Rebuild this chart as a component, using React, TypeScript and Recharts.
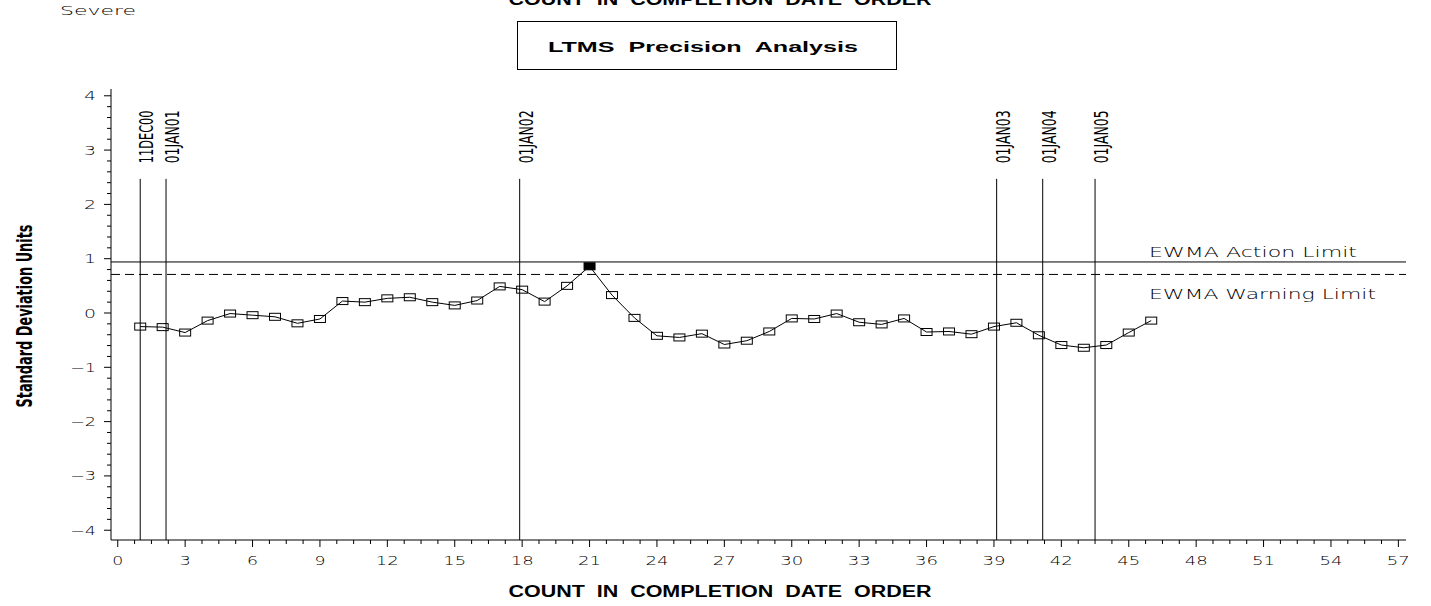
import React from 'react'
import { LineChart, Line, XAxis, YAxis, ReferenceLine } from 'recharts'

// run number (count in completion date order) and EWMA value
const runs = [
  1, 2, 3, 4, 5, 6, 7, 8, 9, 10, 11, 12, 13, 14, 15, 16, 17, 18, 19, 20, 21, 22, 23,
  24, 25, 26, 27, 28, 29, 30, 31, 32, 33, 34, 35, 36, 37, 38, 39, 40, 41, 42, 43, 44, 45, 46,
]
const ewma = [
  -0.25, -0.26, -0.36, -0.14, -0.01, -0.04, -0.07, -0.19, -0.11, 0.22, 0.2, 0.27, 0.29,
  0.2, 0.14, 0.23, 0.49, 0.43, 0.21, 0.5, 0.86, 0.33, -0.09, -0.42, -0.45, -0.38, -0.58,
  -0.51, -0.34, -0.1, -0.11, -0.01, -0.17, -0.21, -0.1, -0.35, -0.34, -0.39, -0.25, -0.18,
  -0.41, -0.59, -0.64, -0.59, -0.36, -0.14,
]
const alarmRuns = [21]

const actionLimit = 0.94
const warningLimit = 0.71

const dateLines = [1.0, 2.15, 17.89, 39.12, 41.17, 43.5]
const dateLabels = ['11DEC00', '01JAN01', '01JAN02', '01JAN03', '01JAN04', '01JAN05']
const dateLineTop = 2.47

const xMajorTicks = [0, 3, 6, 9, 12, 15, 18, 21, 24, 27, 30, 33, 36, 39, 42, 45, 48, 51, 54, 57]
const yMajorTicks = [-4, -3, -2, -1, 0, 1, 2, 3, 4]

const X_DOMAIN: [number, number] = [-0.3, 57.34]
const Y_DOMAIN: [number, number] = [-4.18, 4.125]

// minor ticks: 3 between x majors, 4 between y majors
const xTicks = Array.from({ length: 77 }, (_, i) => i * 0.75)
const yTicks = Array.from({ length: 41 }, (_, i) => (i - 20) / 5)

const data = runs.map((r, i) => ({ run: r, ewma: ewma[i] }))

const WIDE = "'DejaVu Sans', sans-serif"
const NARROW = "'Liberation Sans Narrow', 'DejaVu Sans Condensed', sans-serif"
const BOLD = "'Liberation Sans', Arial, sans-serif"

const XTick = ({ x, y, payload }: any) => {
  const v = payload.value
  const major = xMajorTicks.includes(v)
  const s = String(v)
  return (
    <g>
      <line x1={x} x2={x} y1={y} y2={y + (major ? 7 : 4)} stroke="#000" />
      {major && (
        <text
          x={x}
          y={y + 25}
          textAnchor="middle"
          fontFamily={WIDE}
          fontWeight={200}
          fontSize={12}
          fill="#000"
          textLength={s.length * 11 + (s.length - 1) * 1}
          lengthAdjust="spacingAndGlyphs"
        >
          {s}
        </text>
      )}
    </g>
  )
}

const YTick = ({ x, y, payload }: any) => {
  const v = payload.value
  const major = Number.isInteger(v) && yMajorTicks.includes(v)
  const s = v < 0 ? '\u2212' + Math.abs(v) : String(v)
  return (
    <g>
      <line x1={x - (major ? 7 : 4)} x2={x} y1={y} y2={y} stroke="#000" />
      {major && (
        <text
          x={x - 15}
          y={y + 4.5}
          textAnchor="end"
          fontFamily={WIDE}
          fontWeight={200}
          fontSize={12}
          fill="#000"
          textLength={v < 0 ? 26 : 12}
          lengthAdjust="spacingAndGlyphs"
        >
          {s}
        </text>
      )}
    </g>
  )
}

const Marker = (props: any) => {
  const { cx, cy, payload, index } = props
  if (cx == null || cy == null) return <g key={index} />
  const alarm = alarmRuns.includes(payload.run)
  return (
    <rect
      key={index}
      x={cx - 5.5}
      y={cy - 3.5}
      width={11}
      height={7}
      fill={alarm ? '#000' : 'none'}
      stroke="#000"
      strokeWidth={1}
    />
  )
}

const dateLabel = (text: string) => (props: any) => {
  const vb = props.viewBox || {}
  const x = (vb.x ?? 0) + 13
  const y = (vb.y ?? 0) - 15.5
  return (
    <text
      transform={`translate(${x},${y}) rotate(-90)`}
      textAnchor="start"
      fontFamily={NARROW}
      fontSize={19}
      fill="#000"
      textLength={53}
      lengthAdjust="spacingAndGlyphs"
    >
      {text}
    </text>
  )
}

export default function App() {
  return (
    <div style={{ position: 'absolute', left: 0, top: 0, width: 1431, height: 606, background: '#fff' }}>
      <LineChart
        width={1431}
        height={606}
        data={data}
        margin={{ top: 89, right: 25, left: 0, bottom: 36 }}
      >
        <XAxis
          dataKey="run"
          type="number"
          domain={X_DOMAIN}
          ticks={xTicks}
          interval={0}
          tickSize={0}
          tickMargin={0}
          tickLine={false}
          tick={<XTick />}
          height={30}
          axisLine={{ stroke: '#000' }}
          allowDataOverflow
        />
        <YAxis
          type="number"
          domain={Y_DOMAIN}
          ticks={yTicks}
          interval={0}
          tickSize={0}
          tickMargin={0}
          tickLine={false}
          tick={<YTick />}
          width={111}
          axisLine={{ stroke: '#000' }}
          allowDataOverflow
        />
        <ReferenceLine y={actionLimit} stroke="#000" strokeWidth={1} />
        <ReferenceLine y={warningLimit} stroke="#000" strokeWidth={1} strokeDasharray="9 5" />
        {dateLines.map((v, i) => (
          <ReferenceLine
            key={dateLabels[i]}
            segment={[
              { x: v, y: dateLineTop },
              { x: v, y: Y_DOMAIN[0] },
            ]}
            stroke="#000"
            strokeWidth={1}
            ifOverflow="visible"
            label={dateLabel(dateLabels[i])}
          />
        ))}
        <Line
          dataKey="ewma"
          type="linear"
          stroke="#000"
          strokeWidth={1}
          dot={Marker}
          activeDot={false}
          isAnimationActive={false}
        />
      </LineChart>

      {/* titles and annotations */}
      <svg
        width={1431}
        height={606}
        style={{ position: 'absolute', left: 0, top: 0, pointerEvents: 'none' }}
      >
        <text x={60} y={15} fontFamily={WIDE} fontWeight={200} fontSize={12.5} fill="#000" textLength={76} lengthAdjust="spacingAndGlyphs">
          Severe
        </text>
        <text x={720} y={5} textAnchor="middle" fontFamily={BOLD} fontWeight="bold" fontSize={16} fill="#000" textLength={423} lengthAdjust="spacingAndGlyphs" style={{ whiteSpace: 'pre' }}>
          {'COUNT  IN  COMPLETION  DATE  ORDER'}
        </text>
        <rect x={517.5} y={21.5} width={379} height={48} fill="none" stroke="#000" strokeWidth={1} />
        <text x={703} y={52} textAnchor="middle" fontFamily={BOLD} fontWeight="bold" fontSize={15} fill="#000" textLength={310} lengthAdjust="spacingAndGlyphs" style={{ whiteSpace: 'pre' }}>
          {'LTMS  Precision  Analysis'}
        </text>
        <text x={1149} y={257} fontFamily={WIDE} fontWeight={200} fontSize={14.5} fill="#000" textLength={208} lengthAdjust="spacingAndGlyphs">
          EWMA Action Limit
        </text>
        <text x={1149} y={299} fontFamily={WIDE} fontWeight={200} fontSize={14.5} fill="#000" textLength={227} lengthAdjust="spacingAndGlyphs">
          EWMA Warning Limit
        </text>
        <text
          transform="translate(32,316) rotate(-90)"
          textAnchor="middle"
          fontFamily={NARROW}
          fontWeight="bold"
          fontSize={21}
          fill="#000"
          textLength={183}
          lengthAdjust="spacingAndGlyphs"
        >
          Standard Deviation Units
        </text>
        <text x={720} y={597} textAnchor="middle" fontFamily={BOLD} fontWeight="bold" fontSize={16} fill="#000" textLength={423} lengthAdjust="spacingAndGlyphs" style={{ whiteSpace: 'pre' }}>
          {'COUNT  IN  COMPLETION  DATE  ORDER'}
        </text>
      </svg>
    </div>
  )
}
